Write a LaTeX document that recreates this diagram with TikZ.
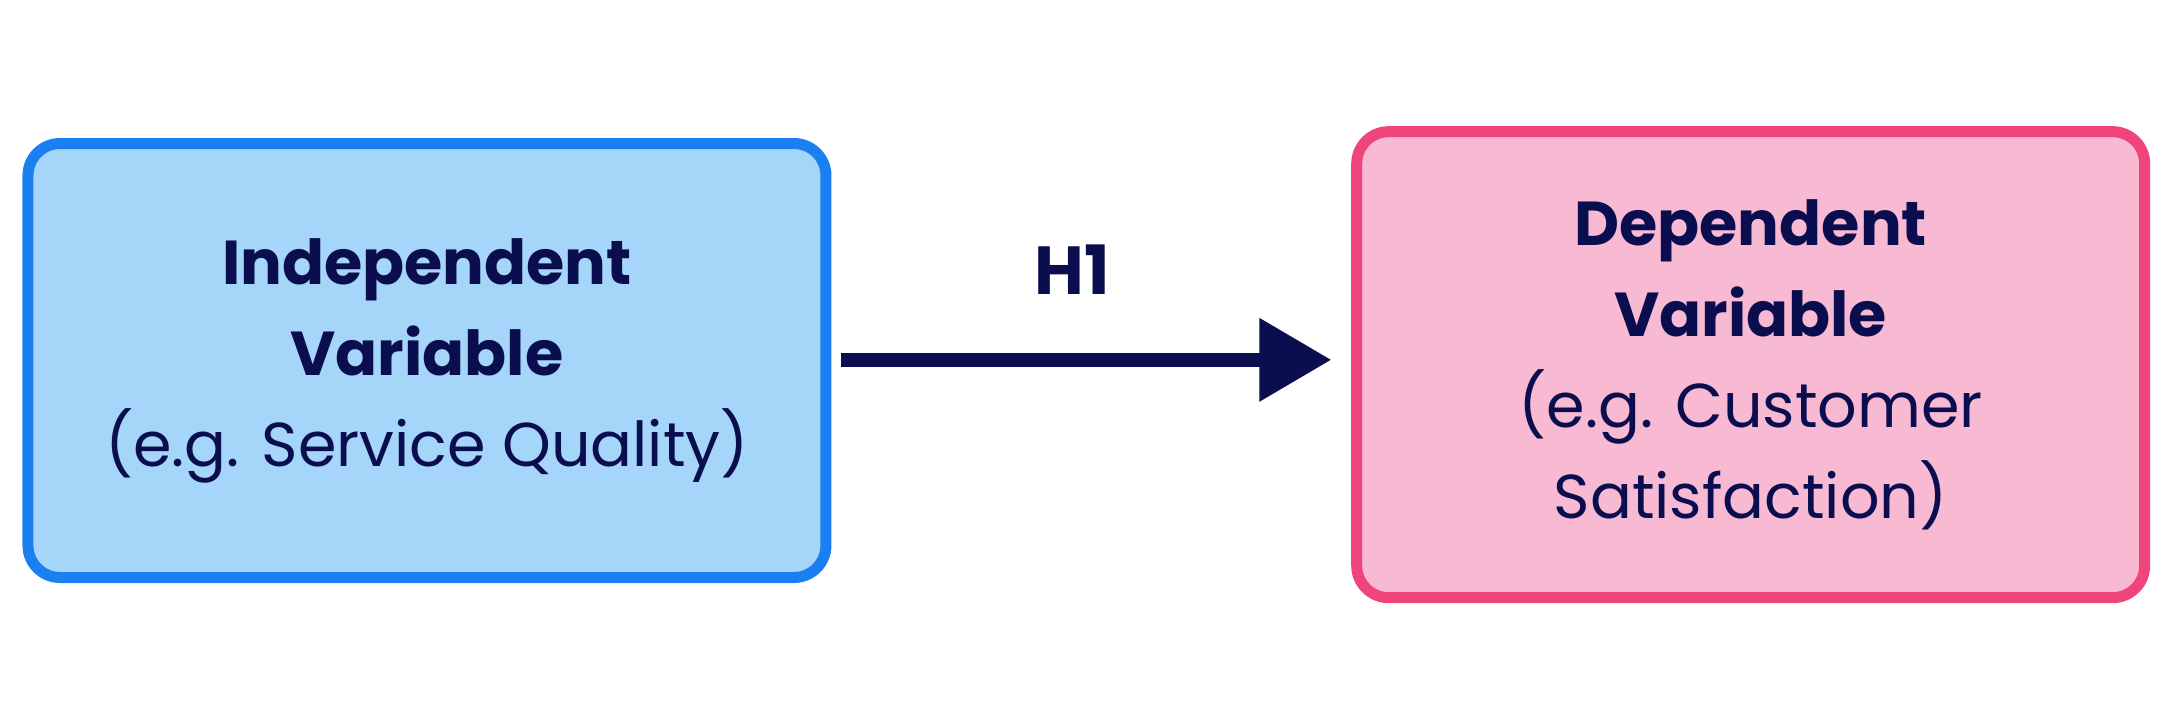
\documentclass[tikz,border=0pt]{standalone}
\usepackage{fontspec}
\setmainfont{Poppins}
\usetikzlibrary{arrows.meta}
\definecolor{bblue}{HTML}{1A7FF0}
\definecolor{lblue}{HTML}{A5D5F8}
\definecolor{bpink}{HTML}{F0457A}
\definecolor{lpink}{HTML}{F8B9D3}
\definecolor{navy}{HTML}{0A0E4F}
\begin{document}
\begin{tikzpicture}[x=0.692pt,y=-0.692pt,
  box/.style={draw, line width=5.5pt, rounded corners=16pt, align=center, font=\fontsize{31}{45.5}\selectfont, text=navy, inner sep=0pt},
  lbl/.style={font=\fontsize{34}{40}\selectfont\bfseries, text=navy}]
\useasboundingbox (0,0) rectangle (1568,524);
\node[box, draw=bblue, fill=lblue, minimum width=399pt, minimum height=217pt] (iv) at (308.5,260.5)
  {\textbf{Independent}\\\textbf{Variable}\\(e.g. Service Quality)};
\node[box, draw=bpink, fill=lpink, minimum width=394pt, minimum height=233pt] (dv) at (1265,263.5)
  {\textbf{Dependent}\\\textbf{Variable}\\(e.g. Customer\\Satisfaction)};
\coordinate (a) at (608,260);
\coordinate (b) at (962,260);
\draw[navy, line width=7pt, -{Triangle[length=36pt,width=40pt]}] (a) -- (b);
\node[lbl] (h1) at (775,195) {H1};
\end{tikzpicture}
\end{document}
